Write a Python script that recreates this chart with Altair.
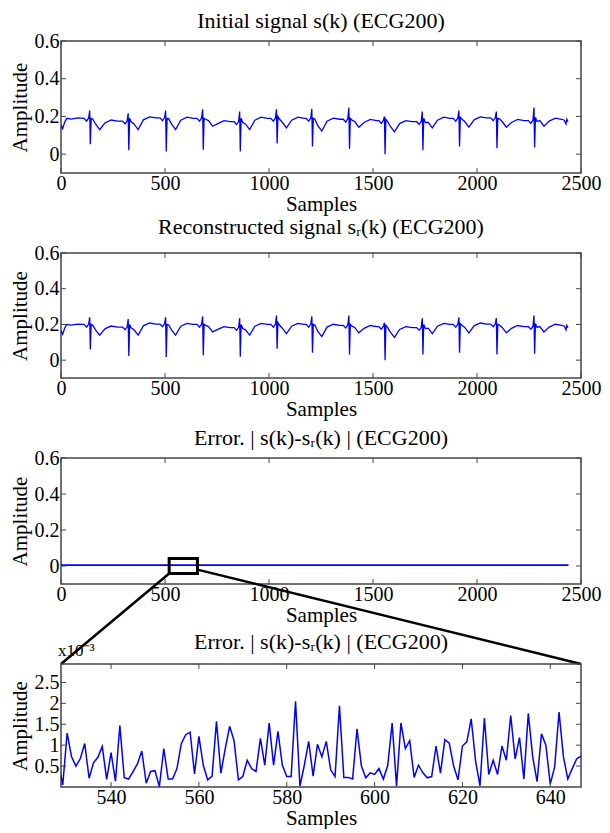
import altair as alt
import pandas as pd

FONT = "Liberation Serif"
BLUE = "#0000ff"
FRAME = "#444444"

# ---- sample positions of the traced ECG points (shared by panels 1 & 2)
ECG_X = [
    0, 8, 18, 28, 50, 80,
    111, 123, 133, 138, 141, 145, 153, 166, 186, 211, 241, 271,
    296, 308, 318, 323, 326, 330, 338, 351, 371, 396, 426, 456,
    476, 488, 498, 503, 506, 510, 518, 531, 551, 576, 606, 636,
    654, 666, 676, 681, 684, 688, 696, 709, 729, 754, 784, 814,
    832, 844, 854, 859, 862, 866, 874, 887, 907, 932, 962, 992,
    1009, 1021, 1031, 1036, 1039, 1043, 1051, 1064, 1084, 1109, 1139, 1169,
    1179, 1191, 1201, 1206, 1209, 1213, 1221, 1234, 1254, 1279, 1309, 1339,
    1357, 1369, 1379, 1384, 1387, 1391, 1399, 1412, 1432, 1457, 1487, 1517,
    1528, 1540, 1550, 1555, 1558, 1562, 1570, 1583, 1603, 1628, 1658, 1688,
    1710, 1722, 1732, 1737, 1740, 1744, 1752, 1765, 1785, 1810, 1840, 1870,
    1886, 1898, 1908, 1913, 1916, 1920, 1928, 1941, 1961, 1986, 2016, 2046,
    2066, 2078, 2088, 2093, 2096, 2100, 2108, 2121, 2141, 2166, 2196, 2226,
    2247, 2259, 2269, 2274, 2277, 2281, 2289, 2302, 2322, 2347, 2377, 2407,
    2420, 2428, 2432, 2437,
]

# ---- initial signal s(k)
S_VALUES = [
    0.155, 0.135, 0.17, 0.19, 0.186, 0.192,
    0.19, 0.175, 0.192, 0.231, 0.052, 0.19, 0.185, 0.16, 0.13, 0.165, 0.181, 0.175,
    0.175, 0.16, 0.177, 0.217, 0.021, 0.19, 0.17, 0.16, 0.13, 0.182, 0.198, 0.192,
    0.192, 0.177, 0.194, 0.231, 0.014, 0.19, 0.187, 0.16, 0.13, 0.18, 0.196, 0.19,
    0.19, 0.175, 0.192, 0.238, 0.024, 0.19, 0.185, 0.178, 0.148, 0.162, 0.178, 0.172,
    0.172, 0.157, 0.174, 0.226, 0.014, 0.19, 0.167, 0.16, 0.13, 0.18, 0.196, 0.19,
    0.19, 0.175, 0.192, 0.238, 0.056, 0.2, 0.185, 0.169, 0.139, 0.18, 0.196, 0.19,
    0.19, 0.175, 0.192, 0.24, 0.04, 0.19, 0.185, 0.152, 0.122, 0.175, 0.191, 0.185,
    0.185, 0.17, 0.187, 0.247, 0.028, 0.19, 0.18, 0.173, 0.143, 0.168, 0.184, 0.178,
    0.178, 0.163, 0.18, 0.2, 0.0, 0.185, 0.173, 0.148, 0.118, 0.162, 0.178, 0.172,
    0.172, 0.157, 0.174, 0.226, 0.021, 0.19, 0.167, 0.169, 0.139, 0.18, 0.196, 0.19,
    0.19, 0.175, 0.192, 0.231, 0.04, 0.195, 0.185, 0.173, 0.143, 0.182, 0.198, 0.192,
    0.192, 0.177, 0.194, 0.226, 0.031, 0.19, 0.187, 0.173, 0.143, 0.168, 0.184, 0.178,
    0.178, 0.163, 0.18, 0.247, 0.035, 0.195, 0.173, 0.178, 0.148, 0.175, 0.191, 0.185,
    0.18, 0.16, 0.185, 0.172,
]

# ---- reconstructed signal s_r(k)
SR_VALUES = [
    0.165, 0.145, 0.18, 0.2, 0.196, 0.202,
    0.2, 0.185, 0.202, 0.24, 0.06, 0.2, 0.195, 0.17, 0.14, 0.175, 0.191, 0.185,
    0.185, 0.17, 0.187, 0.23, 0.023, 0.2, 0.18, 0.17, 0.14, 0.192, 0.208, 0.202,
    0.202, 0.187, 0.204, 0.24, 0.017, 0.2, 0.197, 0.17, 0.14, 0.19, 0.206, 0.2,
    0.2, 0.185, 0.202, 0.245, 0.028, 0.2, 0.195, 0.188, 0.158, 0.172, 0.188, 0.182,
    0.182, 0.167, 0.184, 0.235, 0.019, 0.2, 0.177, 0.17, 0.14, 0.19, 0.206, 0.2,
    0.2, 0.185, 0.202, 0.25, 0.064, 0.21, 0.195, 0.179, 0.149, 0.19, 0.206, 0.2,
    0.2, 0.185, 0.202, 0.245, 0.042, 0.2, 0.195, 0.162, 0.132, 0.185, 0.201, 0.195,
    0.195, 0.18, 0.197, 0.25, 0.032, 0.2, 0.19, 0.183, 0.153, 0.178, 0.194, 0.188,
    0.188, 0.173, 0.19, 0.21, 0.0, 0.195, 0.183, 0.158, 0.128, 0.172, 0.188, 0.182,
    0.182, 0.167, 0.184, 0.235, 0.032, 0.2, 0.177, 0.179, 0.149, 0.19, 0.206, 0.2,
    0.2, 0.185, 0.202, 0.24, 0.042, 0.205, 0.195, 0.183, 0.153, 0.192, 0.208, 0.202,
    0.202, 0.187, 0.204, 0.235, 0.032, 0.2, 0.197, 0.183, 0.153, 0.178, 0.194, 0.188,
    0.188, 0.173, 0.19, 0.25, 0.036, 0.205, 0.183, 0.188, 0.158, 0.185, 0.201, 0.195,
    0.19, 0.17, 0.195, 0.182,
]

# ---- error |s - s_r| over the whole record (flat at this scale)
ERR_X = [0, 400, 800, 1200, 1600, 2000, 2440]
ERR_VALUES = [0.005, 0.005, 0.005, 0.005, 0.005, 0.005, 0.005]

# ---- zoomed error, samples 528..647, values in units of 1e-3
ZOOM_X = list(range(528, 648))
ZOOM_ERR = [
    0.6, 0.05, 1.29, 0.72, 0.5, 0.68, 1.04, 0.21, 0.58, 0.71, 0.97, 0.18,
    0.82, 0.14, 1.47, 0.22, 0.19, 0.37, 0.55, 0.86, 0.09, 0.37, 0.39, 0.01,
    0.92, 0.19, 0.19, 0.44, 1.04, 1.25, 1.31, 0.31, 1.21, 0.52, 0.17, 0.26,
    1.57, 0.33, 0.92, 1.45, 1.11, 0.17, 0.25, 0.64, 0.44, 0.37, 1.16, 0.52,
    1.53, 0.52, 1.33, 0.52, 0.25, 0.25, 2.05, 0.02, 0.52, 1.09, 0.26, 1.02,
    0.72, 1.09, 0.41, 0.25, 1.94, 0.23, 0.23, 0.19, 1.39, 0.5, 0.22, 0.34,
    0.3, 0.44, 0.19, 0.52, 1.53, 0.02, 1.53, 0.92, 1.11, 0.23, 0.52, 0.34,
    0.22, 0.25, 0.98, 0.33, 1.13, 1.05, 0.5, 0.17, 0.98, 1.08, 1.63, 0.62,
    0.03, 1.65, 0.3, 0.64, 0.3, 0.98, 0.64, 1.71, 0.67, 1.18, 0.19, 1.76,
    0.72, 0.13, 1.27, 1.0, 0.07, 0.48, 1.79, 0.72, 0.19, 0.44, 0.67, 0.74,
]

SIG_X_TICKS = [0, 500, 1000, 1500, 2000, 2500]
SIG_Y_TICKS = [0, 0.2, 0.4, 0.6]
ZOOM_X_TICKS = [540, 560, 580, 600, 620, 640]
ZOOM_Y_TICKS = [0.5, 1, 1.5, 2, 2.5]

TITLES = [
    "Initial signal s(k) (ECG200)",
    "Reconstructed signal s\u1d63(k) (ECG200)",
    "Error. | s(k)-s\u1d63(k) | (ECG200)",
    "Error. | s(k)-s\u1d63(k) | (ECG200)",
]
TITLE_OFFSETS = [-2, 4, -2, 10]
SCALE_NOTE = "x10\u207b\u00b3"

# zoom box drawn on panel 3 (sample range / amplitude range)
BOX_X = [520, 656]
BOX_Y = [-0.042, 0.042]

W = 520
HEIGHTS = [132, 125, 126, 123]
GAP = 80
TICK = 5


def panel(df, xf, yf, xdom, ydom, xticks, yticks, H, sw):
    xs = alt.Scale(domain=xdom, nice=False, zero=False)
    ys = alt.Scale(domain=ydom, nice=False, zero=False)
    xa = alt.Axis(values=xticks, format="d", tickSize=0, domain=False, grid=False,
                  title="Samples", labelPadding=0, titlePadding=0,
                  labelFlush=False, labelOverlap=False)
    ya = alt.Axis(values=yticks, format="~g", tickSize=0, domain=False, grid=False,
                  title="Amplitude", labelPadding=2, titlePadding=4,
                  labelFlush=False, labelOverlap=False)
    X = lambda f: alt.X(f, type="quantitative", scale=xs, axis=xa)
    Y = lambda f: alt.Y(f, type="quantitative", scale=ys, axis=ya)
    line = alt.Chart(df).mark_line(color=BLUE, strokeWidth=sw, clip=True).encode(
        x=X(xf), y=Y(yf))
    xt = pd.DataFrame({"t": xticks})
    yt = pd.DataFrame({"t": yticks})
    rule = dict(color=FRAME, strokeWidth=1)
    bot = alt.Chart(xt).mark_rule(**rule).encode(x=X("t"), y=alt.value(H), y2=alt.value(H - TICK))
    top = alt.Chart(xt).mark_rule(**rule).encode(x=X("t"), y=alt.value(0), y2=alt.value(TICK))
    lef = alt.Chart(yt).mark_rule(**rule).encode(y=Y("t"), x=alt.value(0), x2=alt.value(TICK))
    rig = alt.Chart(yt).mark_rule(**rule).encode(y=Y("t"), x=alt.value(W - TICK), x2=alt.value(W))
    return [line, bot, top, lef, rig], X, Y


p1_df = pd.DataFrame({"k": ECG_X, "a": S_VALUES})
p2_df = pd.DataFrame({"k": ECG_X, "a": SR_VALUES})
p3_df = pd.DataFrame({"k": ERR_X, "a": ERR_VALUES})
p4_df = pd.DataFrame({"k": ZOOM_X, "a": ZOOM_ERR})

SIG_DOM = [-0.1, 0.6]

l1, _, _ = panel(p1_df, "k", "a", [0, 2500], SIG_DOM, SIG_X_TICKS, SIG_Y_TICKS, HEIGHTS[0], 1.3)
l2, _, _ = panel(p2_df, "k", "a", [0, 2500], SIG_DOM, SIG_X_TICKS, SIG_Y_TICKS, HEIGHTS[1], 1.3)
l3, X3, Y3 = panel(p3_df, "k", "a", [0, 2500], SIG_DOM, SIG_X_TICKS, SIG_Y_TICKS, HEIGHTS[2], 1.8)
l4, _, _ = panel(p4_df, "k", "a", [528.6, 647], [0, 2.94], ZOOM_X_TICKS, ZOOM_Y_TICKS, HEIGHTS[3], 1.5)

# zoom box and link lines (panel 3 coordinates; the links reach panel 4's top corners)
y_link = SIG_DOM[1] - (HEIGHTS[2] + GAP) * (SIG_DOM[1] - SIG_DOM[0]) / HEIGHTS[2]
box_df = pd.DataFrame({"x1": [BOX_X[0]], "x2": [BOX_X[1]], "y1": [BOX_Y[0]], "y2": [BOX_Y[1]]})
box = alt.Chart(box_df).mark_rect(fill=None, fillOpacity=0, stroke="black", strokeWidth=3).encode(
    x=X3("x1"), x2="x2", y=Y3("y1"), y2="y2")
link_df = pd.DataFrame({
    "x1": [BOX_X[0], BOX_X[1]], "y1": [BOX_Y[0], -0.02],
    "x2": [0, 2500], "y2": [y_link, y_link],
})
links = alt.Chart(link_df).mark_rule(color="black", strokeWidth=2.5).encode(
    x=X3("x1"), y=Y3("y1"), x2="x2", y2="y2")
# "x10^-3" multiplier note for panel 4, placed from panel 3's group so it does not push panel 4's title
scale_lbl = alt.Chart(pd.DataFrame({"s": [SCALE_NOTE]})).mark_text(
    align="left", baseline="alphabetic", font=FONT, fontSize=17, color="black").encode(
    x=alt.value(-3), y=alt.value(HEIGHTS[2] + GAP - 8), text="s:N")
l3 = l3 + [box, links, scale_lbl]

charts = []
for layers, h, t, off in zip([l1, l2, l3, l4], HEIGHTS, TITLES, TITLE_OFFSETS):
    charts.append(alt.layer(*layers).properties(
        width=W, height=h, title=alt.TitleParams(t, offset=off)))

chart = alt.vconcat(*charts, spacing=GAP, bounds="flush").properties(
    padding={"left": 0, "top": 1, "right": 0, "bottom": 0}
).configure_axis(
    labelFont=FONT, titleFont=FONT, labelFontSize=20, titleFontSize=21,
    titleFontWeight="normal", labelColor="black", titleColor="black",
).configure_title(
    font=FONT, fontSize=22, fontWeight="normal", anchor="middle", color="black",
).configure_view(stroke=FRAME, strokeWidth=1.5)

chart.save("out.html", embed_options={"renderer": "svg", "actions": False})
